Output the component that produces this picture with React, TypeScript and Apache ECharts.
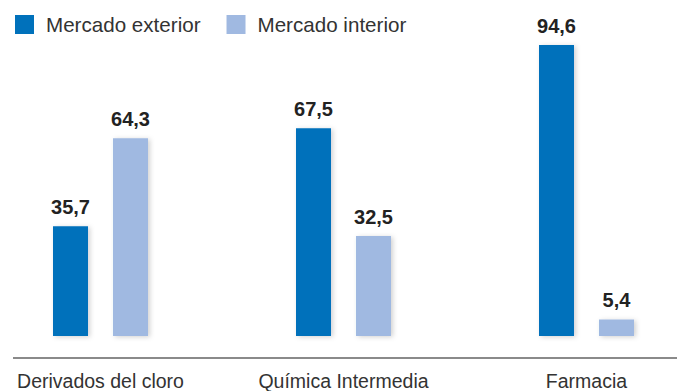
import React, { useEffect, useRef } from "react";
import * as echarts from "echarts";

const categories = ["Derivados del cloro", "Química Intermedia", "Farmacia"];
const seriesNames = ["Mercado exterior", "Mercado interior"];
const exterior = [35.7, 67.5, 94.6];
const interior = [64.3, 32.5, 5.4];
const colors = ["#0071BB", "#A0B9E1"];

const FONT = "'Liberation Sans', Arial, sans-serif";

export default function App() {
  const ref = useRef<HTMLDivElement>(null);
  useEffect(() => {
    if (!ref.current) return;
    const chart = echarts.init(ref.current, null, { renderer: "svg" });
    const fmt = (p: any) => String(p.value).replace(".", ",");
    const mk = (name: string, data: number[], color: string) => ({
      name,
      type: "bar",
      data,
      barWidth: 35,
      barGap: "71.4%",
      itemStyle: {
        color,
        shadowBlur: 5,
        shadowOffsetX: 2,
        shadowOffsetY: 1,
        shadowColor: "rgba(0,0,0,0.18)",
      },
      label: {
        show: true,
        position: "top",
        distance: 9,
        formatter: fmt,
        fontFamily: FONT,
        fontWeight: "bold",
        fontSize: 20,
        color: "#222",
      },
    });
    chart.setOption({
      animation: false,
      legend: {
        left: 15,
        top: 14,
        padding: 0,
        icon: "rect",
        itemWidth: 19,
        itemHeight: 19,
        itemGap: 26,
        textStyle: {
          fontFamily: FONT,
          fontSize: 20.6,
          color: "#333",
          padding: [0, 0, 0, 7],
        },
        data: seriesNames,
      },
      grid: { left: 100.5, right: 90.5, top: 28.3, bottom: 54 },
      xAxis: {
        type: "category",
        data: categories,
        boundaryGap: false,
        axisLine: { show: false },
        axisTick: { show: false },
        axisLabel: {
          margin: 35,
          fontFamily: FONT,
          fontSize: 19.5,
          color: "#333",
        },
      },
      yAxis: {
        type: "value",
        min: 0,
        max: 100,
        show: false,
        splitLine: { show: false },
      },
      graphic: [
        {
          type: "line",
          shape: { x1: 13, y1: 358, x2: 677, y2: 358 },
          style: { stroke: "#8a8a8a", lineWidth: 2 },
        },
      ],
      series: [
        mk(seriesNames[0], exterior, colors[0]),
        mk(seriesNames[1], interior, colors[1]),
      ],
    });
    return () => chart.dispose();
  }, []);
  return <div ref={ref} style={{ width: 677, height: 391, position: "absolute", left: 0, top: 0 }} />;
}
